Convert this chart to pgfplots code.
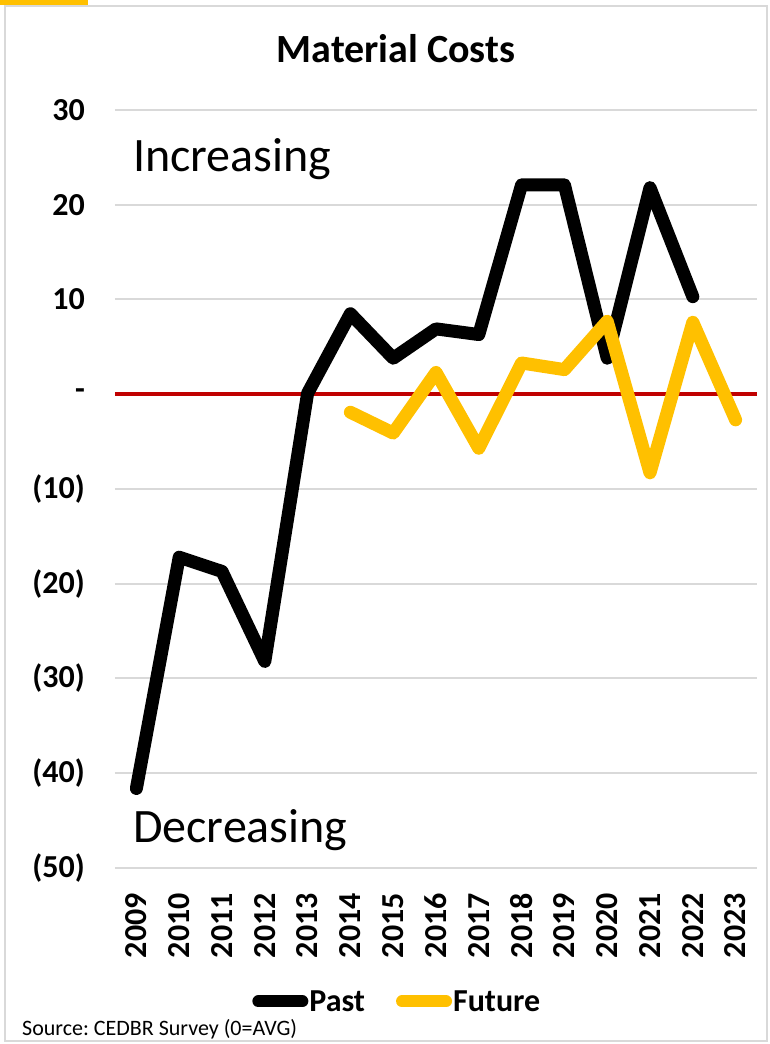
\documentclass[border=0pt]{standalone}
\usepackage{pgfplots}
\pgfplotsset{compat=1.18}
\usepackage{fontspec}
\setmainfont{Carlito}
\definecolor{gold}{HTML}{FFC000}
\definecolor{dred}{HTML}{C00000}
\definecolor{gridc}{HTML}{D9D9D9}
\begin{document}
\frenchspacing
\begin{tikzpicture}[x=1pt,y=1pt]
\useasboundingbox (0,0) rectangle (769,1044);
\fill[white] (0,0) rectangle (769,1044);
\draw[gridc, line width=2pt] (5,3) rectangle (767,1038);
\fill[gold] (0,1039) rectangle (88,1044);
\node[anchor=base, font=\bfseries\fontsize{40}{40}\selectfont] at (396,981) {Material Costs};
\node[anchor=base west, inner sep=0pt, font=\fontsize{22}{22}\selectfont] at (22,9) {Source: CEDBR Survey (0=AVG)};
\begin{axis}[
  at={(115pt,176pt)}, anchor=south west,
  scale only axis, width=642pt, height=758pt,
  xmin=2008.5, xmax=2023.5, ymin=-50, ymax=30,
  axis line style={draw=none},
  tick style={draw=none},
  ymajorgrids, grid style={gridc, line width=2pt},
  xtick={2009,2010,2011,2012,2013,2014,2015,2016,2017,2018,2019,2020,2021,2022,2023},
  xticklabels={2009,2010,2011,2012,2013,2014,2015,2016,2017,2018,2019,2020,2021,2022,2023},
  ytick={-50,-40,-30,-20,-10,0,10,20,30},
  yticklabels={(50),(40),(30),(20),(10),-,10,20,30},
  /pgf/number format/assume math mode=true,
  xticklabel style={rotate=90, anchor=east, inner sep=0pt, font=\bfseries\fontsize{32}{32}\selectfont},
  yticklabel style={anchor=east, inner sep=0pt, font=\bfseries\fontsize{32}{32}\selectfont},
  xticklabel shift=25pt,
  yticklabel shift=30pt,
  clip=false,
  legend style={at={(0.439,-0.176)}, anchor=center, draw=none, fill=none,
    font=\bfseries\fontsize{32}{32}\selectfont, legend columns=2,
    nodes={inner xsep=1pt},
    /tikz/every even column/.append style={column sep=30pt},
    inner sep=0pt},
  legend image code/.code={\draw[#1, line width=12pt, line cap=round] (0pt,0pt) -- (44pt,0pt);},
]
\addplot[dred, line width=4pt, forget plot] coordinates {(2008.5,0) (2023.5,0)};
\addplot[black, line width=13pt, line join=round, line cap=round] coordinates {
(2009,-41.6) (2010,-17.2) (2011,-18.7) (2012,-28.2) (2013,0.1) (2014,8.5)
(2015,3.8) (2016,6.9) (2017,6.3) (2018,22.1) (2019,22.1) (2020,3.8)
(2021,21.8) (2022,10.3)};
\addlegendentry{Past}
\addplot[gold, line width=13pt, line join=round, line cap=round] coordinates {
(2014,-1.9) (2015,-4.1) (2016,2.3) (2017,-5.7) (2018,3.3) (2019,2.6)
(2020,7.7) (2021,-8.3) (2022,7.6) (2023,-2.7)};
\addlegendentry{Future}
\end{axis}
\node[anchor=base west, inner sep=0pt, font=\fontsize{48}{48}\selectfont] at (133,872) {Increasing};
\node[anchor=base west, inner sep=0pt, font=\fontsize{48}{48}\selectfont] at (133,201) {Decreasing};
\end{tikzpicture}
\end{document}
